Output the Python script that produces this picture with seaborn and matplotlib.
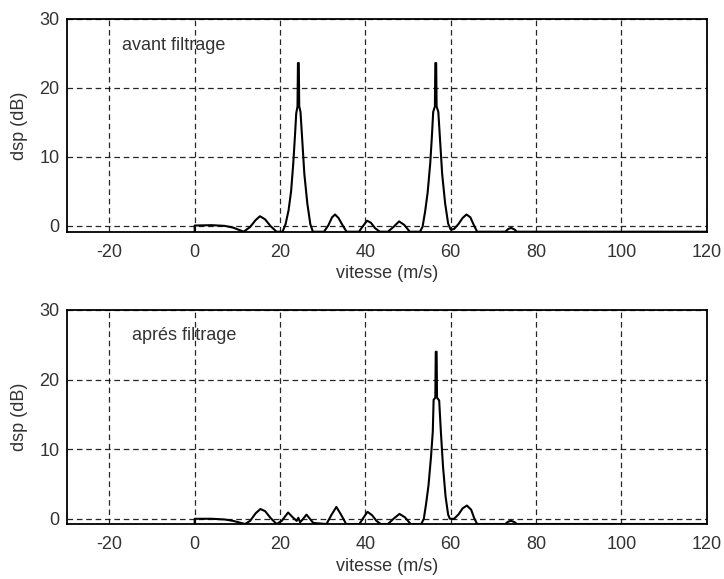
import matplotlib
matplotlib.use("Agg")
import matplotlib.pyplot as plt
import seaborn as sns
import pandas as pd

# Spectre de vitesse avant filtrage
v_avant = [0, 0, 4, 7, 9, 11.5,
           13, 14.3, 15.3, 16.5, 17.8, 19.2,
           20.6, 21.3, 22.0, 22.6, 23.1, 23.5, 23.8, 24.1, 24.2, 24.4, 24.5, 24.8,
           25.2, 25.7, 26.4, 27.1, 27.7,
           30.3, 31.3, 32.2, 32.9, 33.7, 34.7, 35.6,
           38.5, 39.3, 40.4, 41.3, 42.3, 43.4,
           45.3, 46.6, 47.9, 49.1, 50.4,
           52.8, 53.4, 54.0, 54.6, 55.2, 55.6, 55.9, 56.3, 56.4, 56.6, 56.7, 57.1,
           57.5, 58.0, 58.7, 59.4, 60.0,
           60.8, 61.8, 62.8, 63.7, 64.6, 65.4, 66.2,
           72.8, 73.5, 74.2, 75.0, 75.5, 120]
dsp_avant = [-0.9, 0.0, 0.05, -0.05, -0.3, -0.9,
             -0.2, 0.8, 1.35, 0.9, -0.1, -0.9,
             -0.9, 0.2, 2.2, 5.0, 9.0, 13.0, 16.3, 17.3, 23.6, 23.6, 17.3, 16.5,
             12.5, 7.5, 3.2, 0.2, -0.9,
             -0.9, 0.0, 1.2, 1.6, 1.1, 0.0, -0.9,
             -0.9, -0.2, 0.7, 0.4, -0.4, -0.9,
             -0.9, -0.2, 0.6, 0.1, -0.9,
             -0.9, -0.2, 2.0, 4.8, 9.0, 13.0, 16.5, 17.3, 23.6, 23.6, 17.3, 16.5,
             12.5, 7.5, 3.2, 0.3, -0.6,
             -0.5, 0.2, 1.1, 1.6, 1.2, 0.1, -0.9,
             -0.9, -0.5, -0.35, -0.6, -0.9, -0.9]

# Spectre de vitesse aprés filtrage
v_apres = [0, 0, 4, 7, 9, 11.8,
           13, 14.3, 15.4, 16.5, 17.8, 19.2,
           20.4, 21.9, 23.0, 23.9, 24.3, 24.7, 25.3, 26.2, 27.0, 27.8,
           30.9, 32.0, 33.2, 34.3, 35.5,
           38.6, 39.5, 40.5, 41.6, 42.6, 43.6,
           45.3, 46.6, 48.0, 49.3, 50.6,
           53.1, 53.7, 54.2, 54.8, 55.4, 55.8, 56.0, 56.4, 56.5, 56.7, 56.8, 57.3,
           57.7, 58.2, 58.8, 59.4, 59.8,
           60.8, 61.8, 62.8, 63.8, 64.8, 65.5, 66.2,
           72.8, 73.5, 74.2, 75.0, 75.5, 120]
dsp_apres = [-0.75, 0.0, 0.0, -0.1, -0.3, -0.75,
             -0.3, 0.8, 1.4, 1.1, 0.1, -0.75,
             -0.3, 0.9, 0.2, -0.3, 0.15, -0.5, -0.1, 0.6, 0.0, -0.6,
             -0.75, 0.5, 1.7, 0.6, -0.75,
             -0.75, 0.1, 1.0, 0.5, -0.3, -0.75,
             -0.75, 0.0, 0.7, 0.2, -0.75,
             -0.75, 0.0, 2.0, 4.8, 9.0, 12.5, 17.1, 17.4, 24.0, 24.0, 17.4, 17.0,
             12.5, 7.5, 3.2, 0.6, 0.0,
             0.0, 0.6, 1.5, 1.9, 1.3, 0.1, -0.75,
             -0.75, -0.4, -0.3, -0.5, -0.75, -0.75]

x_ticks = [-20, 0, 20, 40, 60, 80, 100, 120]
y_ticks = [0, 10, 20, 30]

panels = [
    ("avant filtrage", v_avant, dsp_avant, -0.9, (-17, 26.2)),
    ("aprés filtrage", v_apres, dsp_apres, -0.75, (-14.8, 26.4)),
]

sns.set_theme(style="white")
plt.rcParams["font.family"] = ["Liberation Sans", "DejaVu Sans"]

fig = plt.figure(figsize=(7.24, 5.79), dpi=100)
rects = [[0.0921, 0.5998, 0.8840, 0.3674],
         [0.0921, 0.0950, 0.8840, 0.3696]]

txt_color = "#333333"
for (label, v, dsp, ymin, txt_pos), rect in zip(panels, rects):
    ax = fig.add_axes(rect)
    df = pd.DataFrame({"vitesse": v, "dsp": dsp})
    sns.lineplot(data=df, x="vitesse", y="dsp", ax=ax, sort=False,
                 estimator=None, color="black", linewidth=1.5, zorder=3)
    ax.set_xlim(-30, 120)
    ax.set_ylim(ymin, 30)
    ax.set_xticks(x_ticks)
    ax.set_yticks(y_ticks)
    ax.set_xticklabels([str(t) for t in x_ticks])
    ax.set_yticklabels([str(t) for t in y_ticks])
    ax.grid(True, color="black", linestyle=(0, (4.5, 3)), linewidth=0.9, alpha=0.85)
    ax.set_axisbelow(True)
    for s in ax.spines.values():
        s.set_color("black")
        s.set_linewidth(1.3)
        s.set_visible(True)
    ax.tick_params(axis="both", length=0, labelsize=13, colors=txt_color)
    ax.tick_params(axis="x", pad=9)
    ax.tick_params(axis="y", pad=5)
    ax.set_xlabel("vitesse (m/s)", fontsize=13, color=txt_color, labelpad=3)
    ax.set_ylabel("dsp (dB)", fontsize=13, color=txt_color, labelpad=8)
    ax.text(txt_pos[0], txt_pos[1], label, fontsize=13, color=txt_color,
            ha="left", va="center")

fig.savefig("out.png", dpi=100)
